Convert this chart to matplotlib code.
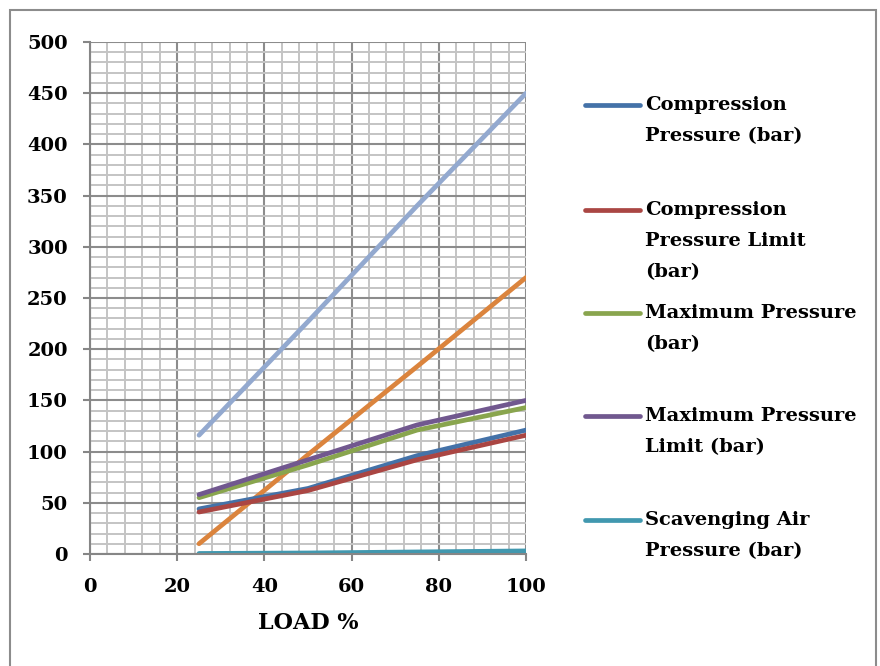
import matplotlib.pyplot as plt
from matplotlib.lines import Line2D
from matplotlib.patches import Rectangle
from matplotlib.ticker import MultipleLocator

plt.rcParams['font.family'] = ['DejaVu Serif']
plt.rcParams['font.weight'] = 'bold'

# load points (%)
load = [25, 50, 75, 100]

# pressures
comp_pressure = [44, 64, 96, 121]
comp_limit = [41, 62, 92, 116]
max_pressure = [55, 87, 121, 143]
max_limit = [58, 92, 126, 150]
scav_air = [0.5, 1, 2, 3]
# two extra series without legend entries
series_a = [116, 227, 340, 450]
series_b = [10, 97, 183, 270]

legend_labels = [
    ['Compression', 'Pressure (bar)'],
    ['Compression', 'Pressure Limit', '(bar)'],
    ['Maximum Pressure', '(bar)'],
    ['Maximum Pressure', 'Limit (bar)'],
    ['Scavenging Air', 'Pressure (bar)'],
]

c_blue = '#4472A8'
c_red = '#AA4643'
c_green = '#89A54E'
c_purple = '#71588F'
c_teal = '#4198AF'
c_light = '#93A9CF'
c_orange = '#DB843D'

fs = 14

fig = plt.figure(figsize=(8.8, 6.66), dpi=100)
ax = fig.add_axes([90 / 880, 1 - 554 / 666, 436 / 880, 512 / 666])

lw = 3.4
ax.plot(load, series_a, color=c_light, lw=lw, solid_capstyle='round')
ax.plot(load, series_b, color=c_orange, lw=lw, solid_capstyle='round')
ax.plot(load, comp_pressure, color=c_blue, lw=lw, solid_capstyle='round')
ax.plot(load, comp_limit, color=c_red, lw=lw, solid_capstyle='round')
ax.plot(load, max_pressure, color=c_green, lw=lw, solid_capstyle='round')
ax.plot(load, max_limit, color=c_purple, lw=lw, solid_capstyle='round')
ax.plot(load, scav_air, color=c_teal, lw=lw, solid_capstyle='round')

ax.set_xlim(0, 100)
ax.set_ylim(0, 500)
ax.xaxis.set_major_locator(MultipleLocator(20))
ax.xaxis.set_minor_locator(MultipleLocator(4))
ax.yaxis.set_major_locator(MultipleLocator(50))
ax.yaxis.set_minor_locator(MultipleLocator(10))
ax.grid(which='minor', color='#c4c4c4', lw=1.4, zorder=0)
ax.grid(which='major', color='#8c8c8c', lw=1.5, zorder=0)
ax.set_axisbelow(True)

for s in ['top', 'right']:
    ax.spines[s].set_visible(False)
for s in ['left', 'bottom']:
    ax.spines[s].set_color('#868686')
    ax.spines[s].set_linewidth(1.5)

ax.tick_params(which='major', direction='out', length=5, width=1.5,
               color='#868686', labelsize=fs)
ax.tick_params(axis='y', pad=11)
ax.tick_params(axis='x', pad=12)
ax.tick_params(which='minor', length=0)
for lab in ax.get_xticklabels() + ax.get_yticklabels():
    lab.set_fontweight('bold')

ax.set_xlabel('LOAD %', fontsize=16, fontweight='bold', labelpad=12)

# legend drawn by hand so the handle sits on the first text line
legend_colors = [c_blue, c_red, c_green, c_purple, c_teal]
entry_y = [105, 210, 313, 416, 520]
for lines, col, y0 in zip(legend_labels, legend_colors, entry_y):
    fig.add_artist(Line2D([585 / 880, 640 / 880], [1 - y0 / 666, 1 - y0 / 666],
                          transform=fig.transFigure, color=col, lw=3.4,
                          solid_capstyle='round'))
    for i, txt in enumerate(lines):
        fig.text(645 / 880, 1 - (y0 + i * 31) / 666, txt, fontsize=fs,
                 fontweight='bold', va='center', ha='left')

# outer chart frame
fig.add_artist(Rectangle((10 / 880, -0.01), 866 / 880, 1 - 10 / 666 + 0.01,
                         transform=fig.transFigure, fill=False,
                         edgecolor='#8c8c8c', lw=1.5))

fig.savefig('out.png', dpi=100)
